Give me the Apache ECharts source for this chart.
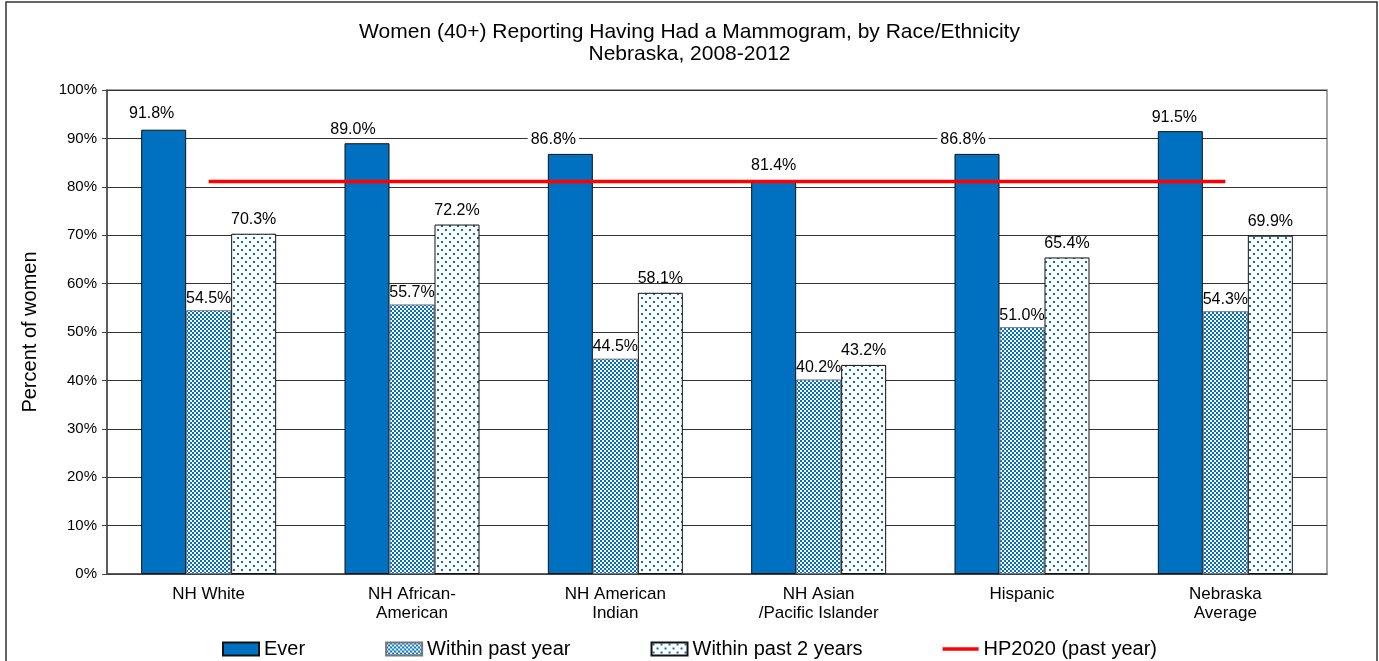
<!DOCTYPE html>
<html>
<head>
<meta charset="utf-8">
<script src="https://cdn.jsdelivr.net/npm/echarts@6/dist/echarts.min.js"></script>
<style>
  html, body { margin: 0; padding: 0; background: #fff; }
  #chart { width: 1379px; height: 661px; }
</style>
</head>
<body>
<div id="chart"></div>
<script>
const categories = ['NH White', 'NH African-\nAmerican', 'NH American\nIndian', 'NH Asian\n/Pacific Islander', 'Hispanic', 'Nebraska\nAverage'];
const ever = [91.8, 89.0, 86.8, 81.4, 86.8, 91.5];
const pastYear = [54.5, 55.7, 44.5, 40.2, 51.0, 54.3];
const past2Years = [70.3, 72.2, 58.1, 43.2, 65.4, 69.9];
const hp2020 = [81.1, 81.1, 81.1, 81.1, 81.1, 81.1];

// the "Ever" labels sit a bit left of their bars in the original
const everLabelShift = [[-12, -2], [-14, 0], [-17, 0], [0, 0], [-14, 0], [-6, 0]];

// small canvas tiles for the Excel-like fill patterns
function checkTile() {
  const c = document.createElement('canvas');
  c.width = 4; c.height = 4;
  const g = c.getContext('2d');
  g.fillStyle = '#ffffff'; g.fillRect(0, 0, 4, 4);
  g.fillStyle = '#0070C0';
  g.fillRect(0, 0, 2, 2); g.fillRect(2, 2, 2, 2);
  return c;
}
function dotTile() {
  const c = document.createElement('canvas');
  c.width = 8; c.height = 8;
  const g = c.getContext('2d');
  g.fillStyle = '#ffffff'; g.fillRect(0, 0, 8, 8);
  g.fillStyle = '#0070C0';
  g.fillRect(1, 1, 2, 2); g.fillRect(5, 5, 2, 2);
  return c;
}

const font = 'Liberation Sans, Arial, sans-serif';
const chart = echarts.init(document.getElementById('chart'));

const valLabel = {
  show: true, position: 'top', distance: 6,
  formatter: p => p.value.toFixed(1) + '%',
  color: '#000', fontSize: 16, fontFamily: font
};

chart.setOption({
  animation: false,
  title: {
    text: 'Women (40+) Reporting Having Had a Mammogram, by Race/Ethnicity\nNebraska, 2008-2012',
    left: 'center', top: 16,
    textStyle: { fontSize: 21, fontWeight: 'normal', color: '#000', fontFamily: font, lineHeight: 22 }
  },
  graphic: [{
    type: 'rect', shape: { x: 6, y: 2, width: 1371, height: 700 },
    style: { fill: 'none', stroke: '#333', lineWidth: 1.5 }, silent: true
  }],
  legend: {
    bottom: -3, left: 'center', itemGap: 80,
    itemWidth: 36, itemHeight: 13, icon: 'rect',
    textStyle: { fontSize: 20, color: '#000', fontFamily: font },
    data: [
      'Ever', 'Within past year', 'Within past 2 years',
      { name: 'HP2020 (past year)', icon: 'path://M0,0 L36,0 L36,3.5 L0,3.5 Z' }
    ]
  },
  grid: { left: 107, right: 52, top: 90, bottom: 87, show: true, borderColor: '#888', borderWidth: 1.5 },
  xAxis: {
    type: 'category', data: categories,
    axisLine: { lineStyle: { color: '#444', width: 1.5 } },
    axisTick: { length: 5, lineStyle: { color: '#444' } },
    axisLabel: { color: '#000', fontSize: 17, fontFamily: font, lineHeight: 19, margin: 11 }
  },
  yAxis: {
    type: 'value', min: 0, max: 100, interval: 10,
    name: 'Percent of women', nameLocation: 'middle', nameGap: 67,
    nameTextStyle: { fontSize: 20, color: '#000', fontFamily: font },
    axisLine: { show: true, lineStyle: { color: '#444', width: 1.5 } },
    axisTick: { show: true, length: 5, lineStyle: { color: '#444' } },
    axisLabel: { formatter: '{value}%', color: '#000', fontSize: 15, fontFamily: font, margin: 10 },
    splitLine: { lineStyle: { color: '#333', width: 1 } }
  },
  series: [
    {
      name: 'Ever', type: 'bar', barWidth: 45, barGap: '0%',
      itemStyle: { color: '#0070C0', borderColor: '#111', borderWidth: 1 },
      label: Object.assign({}, valLabel, { backgroundColor: '#fff', padding: [0, 3] }),
      data: ever.map((v, i) => ({ value: v, label: { offset: everLabelShift[i] } }))
    },
    {
      name: 'Within past year', type: 'bar', barWidth: 45,
      itemStyle: { color: { image: checkTile(), repeat: 'repeat' }, borderColor: '#777', borderWidth: 1 },
      label: Object.assign({}, valLabel, { distance: 4 }),
      data: pastYear
    },
    {
      name: 'Within past 2 years', type: 'bar', barWidth: 45,
      itemStyle: { color: { image: dotTile(), repeat: 'repeat' }, borderColor: '#111', borderWidth: 1 },
      label: valLabel,
      data: past2Years
    },
    {
      name: 'HP2020 (past year)', type: 'line', z: 5,
      symbol: 'none', lineStyle: { color: '#ff0000', width: 3.5 },
      itemStyle: { color: '#ff0000' },
      data: hp2020
    }
  ]
});
</script>
</body>
</html>
